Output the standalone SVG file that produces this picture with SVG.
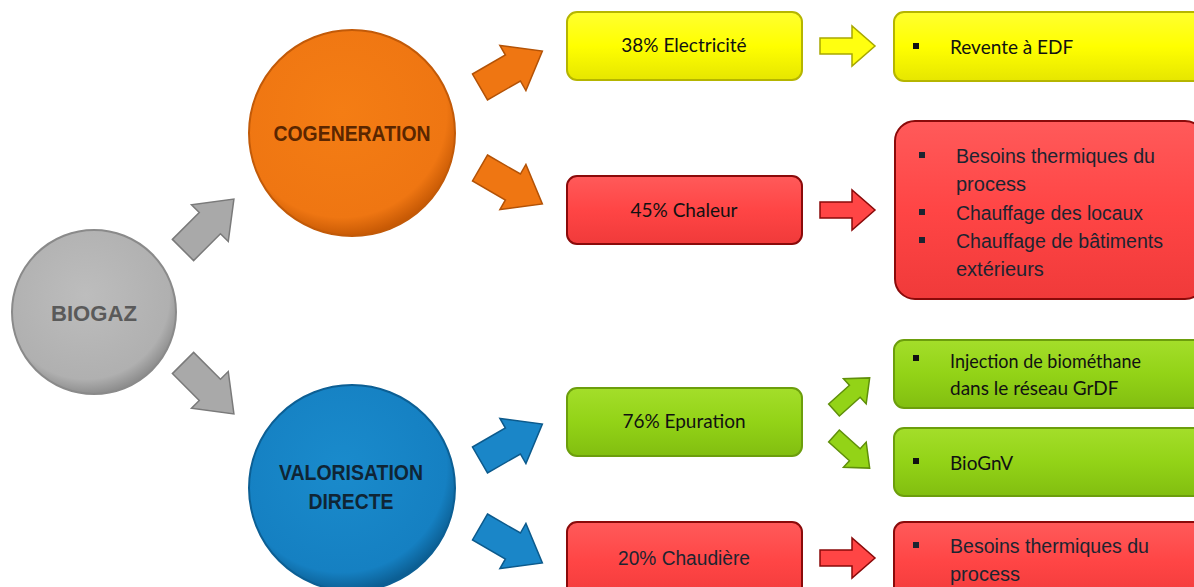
<svg xmlns="http://www.w3.org/2000/svg" width="1194" height="587" viewBox="0 0 1194 587">
<defs>
<radialGradient id="gGray" cx="0.45" cy="0.4" r="0.6"><stop offset="0" stop-color="#bdbdbd"/><stop offset="0.85" stop-color="#b0b0b0"/><stop offset="1" stop-color="#8e8e8e"/></radialGradient>
<radialGradient id="gOrange" cx="0.45" cy="0.4" r="0.6"><stop offset="0" stop-color="#f47d14"/><stop offset="0.85" stop-color="#ef7612"/><stop offset="1" stop-color="#c85a05"/></radialGradient>
<radialGradient id="gBlue" cx="0.45" cy="0.4" r="0.6"><stop offset="0" stop-color="#1a8bcc"/><stop offset="0.85" stop-color="#1580c2"/><stop offset="1" stop-color="#0c5f94"/></radialGradient>
<linearGradient id="gYellow" x1="0" y1="0" x2="0" y2="1"><stop offset="0" stop-color="#ffff30"/><stop offset="0.5" stop-color="#ffff00"/><stop offset="1" stop-color="#e6e600"/></linearGradient>
<linearGradient id="gRed" x1="0" y1="0" x2="0" y2="1"><stop offset="0" stop-color="#ff5a5a"/><stop offset="0.5" stop-color="#ff4545"/><stop offset="1" stop-color="#f03a3a"/></linearGradient>
<linearGradient id="gGreen" x1="0" y1="0" x2="0" y2="1"><stop offset="0" stop-color="#a4de2a"/><stop offset="0.5" stop-color="#93d317"/><stop offset="1" stop-color="#82be10"/></linearGradient>
<path id="arr" d="M0,-15 L38,-15 L38,-26 L72,0 L38,26 L38,15 L0,15 Z"/>
<path id="arrS" d="M0,-8 L32,-8 L32,-20 L55,0 L32,20 L32,8 L0,8 Z"/>
<path id="arrG" d="M0,-8 L28,-8 L28,-17 L48,0 L28,17 L28,8 L0,8 Z"/>
</defs>
<style>
.circ{stroke-width:2}
.ctext{font-family:"Liberation Sans",Arial,sans-serif;font-weight:bold;font-size:22px;text-anchor:middle}
.box{stroke-width:2}
.yel{fill:url(#gYellow);stroke:#b5b500}
.red{fill:url(#gRed);stroke:#8a0a0a}
.grn{fill:url(#gGreen);stroke:#6c9e0c}
.cal{font-family:Lato,"Carlito","Liberation Sans",sans-serif;font-size:19px;fill:#111}
.ari{font-family:"Liberation Sans",Arial,sans-serif;font-size:20px;fill:#1c2430}
.mid{text-anchor:middle}
.bul{fill:#111}
</style>
<rect width="1194" height="587" fill="#ffffff"/>

<g id="connectors">
  <use href="#arr" transform="translate(183,250) rotate(-45)" fill="#a9a9a9" stroke="#7a7a7a" stroke-width="1.5"/>
  <use href="#arr" transform="translate(183,363) rotate(45)" fill="#a9a9a9" stroke="#7a7a7a" stroke-width="1.5"/>
  <use href="#arr" transform="translate(480,87) rotate(-30)" fill="#ef7612" stroke="#b35206" stroke-width="1.5"/>
  <use href="#arr" transform="translate(480,168) rotate(30)" fill="#ef7612" stroke="#b35206" stroke-width="1.5"/>
  <use href="#arr" transform="translate(480,460) rotate(-30)" fill="#1a86c8" stroke="#0c5a8c" stroke-width="1.5"/>
  <use href="#arr" transform="translate(480,527) rotate(30)" fill="#1a86c8" stroke="#0c5a8c" stroke-width="1.5"/>
  <use href="#arrS" transform="translate(820,46)" fill="#ffff10" stroke="#a8a800" stroke-width="1.5"/>
  <use href="#arrS" transform="translate(820,210)" fill="#ff4545" stroke="#8a0a0a" stroke-width="1.5"/>
  <use href="#arrS" transform="translate(820,558)" fill="#ff4545" stroke="#8a0a0a" stroke-width="1.5"/>
  <use href="#arrG" transform="translate(834,410) rotate(-42)" fill="#93d317" stroke="#5f8f0a" stroke-width="1.5"/>
  <use href="#arrG" transform="translate(834,436) rotate(42)" fill="#93d317" stroke="#5f8f0a" stroke-width="1.5"/>
</g>

<g id="biogaz">
  <circle class="circ" cx="94" cy="312" r="82" fill="url(#gGray)" stroke="#8a8a8a"/>
  <text class="ctext" x="94" y="321" fill="#5a5a5a" textLength="86" lengthAdjust="spacingAndGlyphs">BIOGAZ</text>
</g>
<g id="cogeneration">
  <circle class="circ" cx="352" cy="133" r="103" fill="url(#gOrange)" stroke="#c25a08"/>
  <text class="ctext" x="352" y="141" fill="#5a2600" textLength="157" lengthAdjust="spacingAndGlyphs">COGENERATION</text>
</g>
<g id="valorisation">
  <circle class="circ" cx="352" cy="488" r="103" fill="url(#gBlue)" stroke="#0c5f94"/>
  <text class="ctext" x="351" y="480" fill="#0f2535" textLength="144" lengthAdjust="spacingAndGlyphs">VALORISATION</text>
  <text class="ctext" x="351" y="509" fill="#0f2535" textLength="85" lengthAdjust="spacingAndGlyphs">DIRECTE</text>
</g>

<g id="electricite">
  <rect class="box yel" x="567" y="12" width="235" height="68" rx="10"/>
  <text class="cal mid" x="684" y="52">38% Electricité</text>
</g>
<g id="revente">
  <rect class="box yel" x="894" y="12" width="310" height="69" rx="10"/>
  <rect class="bul" x="913" y="43" width="6" height="6"/>
  <text class="cal" x="950" y="54">Revente à EDF</text>
</g>
<g id="chaleur">
  <rect class="box red" x="567" y="176" width="235" height="68" rx="10"/>
  <text class="cal mid" x="684" y="217">45% Chaleur</text>
</g>
<g id="usages-chaleur">
  <rect class="box red" x="895" y="121" width="310" height="178" rx="20"/>
  <rect x="919" y="152" width="6" height="6" fill="#1c2430"/>
  <text class="ari" x="956" y="163" textLength="199" lengthAdjust="spacingAndGlyphs">Besoins thermiques du</text>
  <text class="ari" x="956" y="191">process</text>
  <rect x="919" y="209" width="6" height="6" fill="#1c2430"/>
  <text class="ari" x="956" y="220" textLength="187" lengthAdjust="spacingAndGlyphs">Chauffage des locaux</text>
  <rect x="919" y="237" width="6" height="6" fill="#1c2430"/>
  <text class="ari" x="956" y="248" textLength="207" lengthAdjust="spacingAndGlyphs">Chauffage de bâtiments</text>
  <text class="ari" x="956" y="276">extérieurs</text>
</g>
<g id="epuration">
  <rect class="box grn" x="567" y="388" width="235" height="68" rx="10"/>
  <text class="cal mid" x="684" y="428">76% Epuration</text>
</g>
<g id="injection">
  <rect class="box grn" x="894" y="340" width="310" height="68" rx="10"/>
  <rect class="bul" x="913" y="355" width="6" height="6"/>
  <text class="cal" x="950" y="368" textLength="191" lengthAdjust="spacingAndGlyphs">Injection de biométhane</text>
  <text class="cal" x="950" y="395">dans le réseau GrDF</text>
</g>
<g id="biognv">
  <rect class="box grn" x="894" y="428" width="310" height="68" rx="10"/>
  <rect class="bul" x="913" y="458" width="6" height="6"/>
  <text class="cal" x="950" y="470">BioGnV</text>
</g>
<g id="chaudiere">
  <rect class="box red" x="567" y="522" width="235" height="80" rx="10"/>
  <text class="ari mid" x="684" y="565" textLength="132" lengthAdjust="spacingAndGlyphs">20% Chaudière</text>
</g>
<g id="usages-chaudiere">
  <rect class="box red" x="894" y="522" width="310" height="80" rx="10"/>
  <rect x="913" y="542" width="6" height="6" fill="#1c2430"/>
  <text class="ari" x="950" y="553" textLength="199" lengthAdjust="spacingAndGlyphs">Besoins thermiques du</text>
  <text class="ari" x="950" y="581">process</text>
</g>
</svg>
